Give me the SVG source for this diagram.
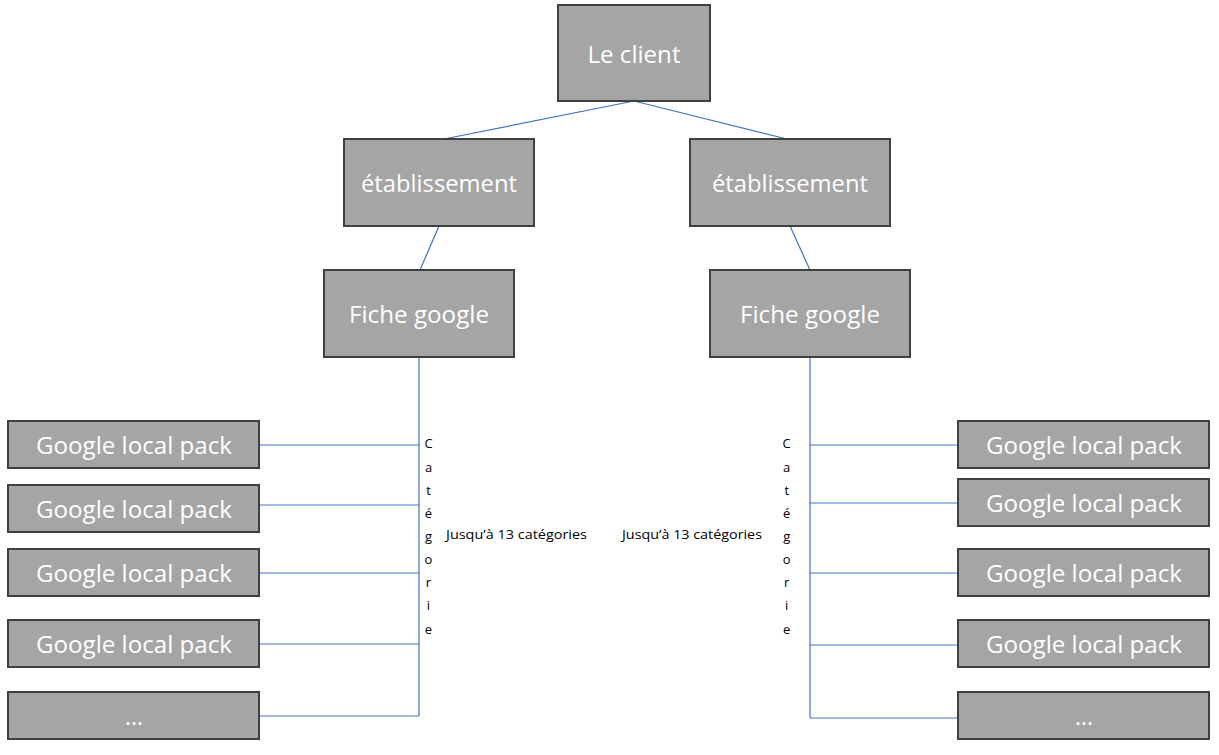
<svg xmlns="http://www.w3.org/2000/svg" width="1219" height="755" viewBox="0 0 1219 755">
<style>
.box{fill:#A5A5A5;stroke:#404040;stroke-width:2}
.lbl{fill:#FFFFFF;font-family:"Open Sans","Liberation Sans",sans-serif;font-size:23px;text-anchor:middle;dominant-baseline:central}
.con{stroke:#4472C4;stroke-width:1.2;fill:none}
.sm{fill:#000;font-family:"Open Sans","Liberation Sans",sans-serif;font-size:13px;text-anchor:middle;dominant-baseline:central}
</style>
<rect width="1219" height="755" fill="#FFFFFF"/>
<g id="connectors">
<polyline class="con" points="444,139 634,101 787,139"/>
<line class="con" x1="439" y1="226" x2="420" y2="270"/>
<line class="con" x1="790" y1="226" x2="810" y2="270"/>
<line class="con" x1="419" y1="357" x2="419" y2="716"/>
<line class="con" x1="259" y1="445" x2="419" y2="445"/>
<line class="con" x1="259" y1="505" x2="419" y2="505"/>
<line class="con" x1="259" y1="573" x2="419" y2="573"/>
<line class="con" x1="259" y1="644" x2="419" y2="644"/>
<line class="con" x1="259" y1="716" x2="419" y2="716"/>
<line class="con" x1="810" y1="357" x2="810" y2="718"/>
<line class="con" x1="810" y1="445" x2="958" y2="445"/>
<line class="con" x1="810" y1="503" x2="958" y2="503"/>
<line class="con" x1="810" y1="573" x2="958" y2="573"/>
<line class="con" x1="810" y1="645" x2="958" y2="645"/>
<line class="con" x1="810" y1="718" x2="958" y2="718"/>
</g>
<g id="client"><rect class="box" x="558" y="5" width="152" height="96"/><text class="lbl" x="634" y="54" textLength="93" lengthAdjust="spacingAndGlyphs">Le client</text></g>
<g id="etab1"><rect class="box" x="344" y="139" width="190" height="87"/><text class="lbl" x="439" y="183" textLength="156" lengthAdjust="spacingAndGlyphs">établissement</text></g>
<g id="etab2"><rect class="box" x="690" y="139" width="200" height="87"/><text class="lbl" x="790" y="183" textLength="156" lengthAdjust="spacingAndGlyphs">établissement</text></g>
<g id="fiche1"><rect class="box" x="324" y="270" width="190" height="87"/><text class="lbl" x="419" y="314" textLength="140" lengthAdjust="spacingAndGlyphs">Fiche google</text></g>
<g id="fiche2"><rect class="box" x="710" y="270" width="200" height="87"/><text class="lbl" x="810" y="314" textLength="140" lengthAdjust="spacingAndGlyphs">Fiche google</text></g>
<g id="l1"><rect class="box" x="8" y="421" width="251" height="47"/><text class="lbl" x="134" y="445" textLength="196" lengthAdjust="spacingAndGlyphs">Google local pack</text></g>
<g id="l2"><rect class="box" x="8" y="485" width="251" height="47"/><text class="lbl" x="134" y="509" textLength="196" lengthAdjust="spacingAndGlyphs">Google local pack</text></g>
<g id="l3"><rect class="box" x="8" y="549" width="251" height="47"/><text class="lbl" x="134" y="573" textLength="196" lengthAdjust="spacingAndGlyphs">Google local pack</text></g>
<g id="l4"><rect class="box" x="8" y="620" width="251" height="47"/><text class="lbl" x="134" y="644" textLength="196" lengthAdjust="spacingAndGlyphs">Google local pack</text></g>
<g id="l5"><rect class="box" x="8" y="692" width="251" height="47"/><text class="lbl" x="134" y="716">...</text></g>
<g id="r1"><rect class="box" x="958" y="421" width="251" height="47"/><text class="lbl" x="1084" y="445" textLength="196" lengthAdjust="spacingAndGlyphs">Google local pack</text></g>
<g id="r2"><rect class="box" x="958" y="479" width="251" height="47"/><text class="lbl" x="1084" y="503" textLength="196" lengthAdjust="spacingAndGlyphs">Google local pack</text></g>
<g id="r3"><rect class="box" x="958" y="549" width="251" height="47"/><text class="lbl" x="1084" y="573" textLength="196" lengthAdjust="spacingAndGlyphs">Google local pack</text></g>
<g id="r4"><rect class="box" x="958" y="620" width="251" height="47"/><text class="lbl" x="1084" y="644" textLength="196" lengthAdjust="spacingAndGlyphs">Google local pack</text></g>
<g id="r5"><rect class="box" x="958" y="692" width="251" height="47"/><text class="lbl" x="1084" y="716">...</text></g>
<g id="cat1">
<text class="sm" x="428.5" y="443.3">C</text><text class="sm" x="428.5" y="466.5">a</text><text class="sm" x="428.5" y="489.6">t</text><text class="sm" x="428.5" y="512.8">é</text><text class="sm" x="428.5" y="536">g</text><text class="sm" x="428.5" y="559.1">o</text><text class="sm" x="428.5" y="582.3">r</text><text class="sm" x="428.5" y="605.4">i</text><text class="sm" x="428.5" y="628.6">e</text>
</g>
<g id="cat2">
<text class="sm" x="786.7" y="443.3">C</text><text class="sm" x="786.7" y="466.5">a</text><text class="sm" x="786.7" y="489.6">t</text><text class="sm" x="786.7" y="512.8">é</text><text class="sm" x="786.7" y="536">g</text><text class="sm" x="786.7" y="559.1">o</text><text class="sm" x="786.7" y="582.3">r</text><text class="sm" x="786.7" y="605.4">i</text><text class="sm" x="786.7" y="628.6">e</text>
</g>
<g id="note1"><text class="sm" x="516.5" y="534.3" textLength="141" lengthAdjust="spacingAndGlyphs">Jusqu’à 13 catégories</text></g>
<g id="note2"><text class="sm" x="692" y="534.3" textLength="140" lengthAdjust="spacingAndGlyphs">Jusqu’à 13 catégories</text></g>
</svg>
